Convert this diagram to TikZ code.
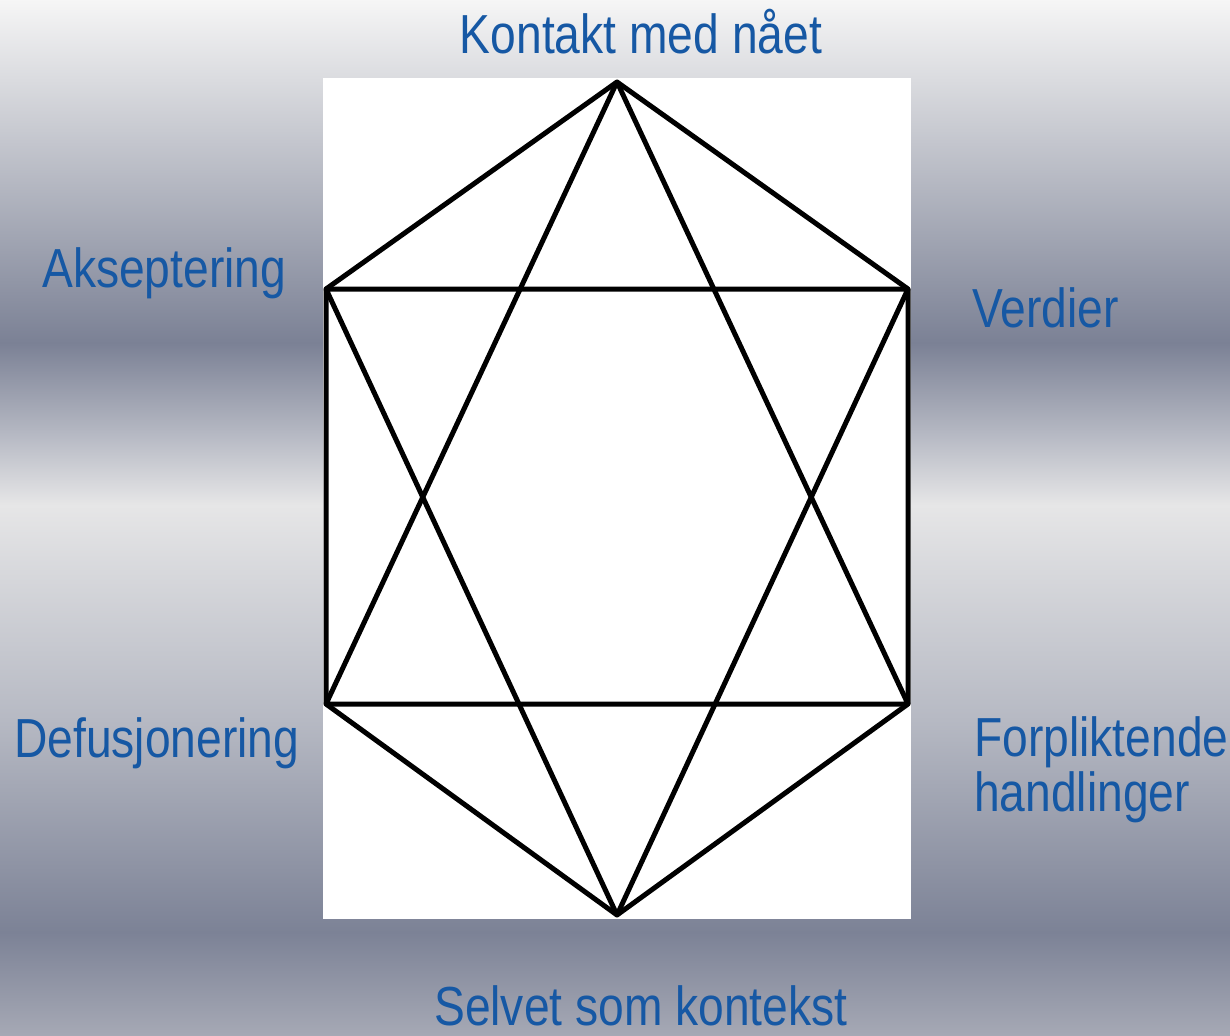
\documentclass[tikz,border=0pt]{standalone}
\usepackage{fontspec}
\newfontfamily\labfont[FakeStretch=0.84]{Liberation Sans}
\definecolor{labblue}{RGB}{22,88,164}
\definecolor{g0}{HTML}{F6F6F6}
\definecolor{g1}{HTML}{DADBDF}
\definecolor{g2}{HTML}{7B8195}
\definecolor{g3}{HTML}{B3B6C1}
\definecolor{g4}{HTML}{E6E6E7}
\definecolor{g5}{HTML}{B6B9C3}
\definecolor{g6}{HTML}{7C8296}
\definecolor{g7}{HTML}{A6A9B5}
\tikzset{
  lab/.style={font=\labfont\fontsize{55}{55}\selectfont, text=labblue, inner sep=0pt, align=left},
  edge/.style={line width=5pt, black, line join=round, line cap=round}
}
\begin{document}
\begin{tikzpicture}[x=1pt,y=-1pt]
\useasboundingbox (0,0) rectangle (1230,1035);
% background bands
\shade[top color=g0, bottom color=g1] (0,-1) rectangle (1230,80);
\shade[top color=g1, bottom color=g2] (0,80) rectangle (1230,343);
\shade[top color=g2, bottom color=g3] (0,343) rectangle (1230,430);
\shade[top color=g3, bottom color=g4] (0,430) rectangle (1230,505);
\shade[top color=g4, bottom color=g5] (0,505) rectangle (1230,720);
\shade[top color=g5, bottom color=g6] (0,720) rectangle (1230,932);
\shade[top color=g6, bottom color=g7] (0,932) rectangle (1230,1036);
% white panel
\fill[white] (323,78) rectangle (911,919);
% vertices
\coordinate (T) at (617,82);
\coordinate (UL) at (326,289);
\coordinate (UR) at (908,289);
\coordinate (LL) at (326,704);
\coordinate (LR) at (908,704);
\coordinate (B) at (617,915);
% hexagon
\draw[edge] (T) -- (UR) -- (LR) -- (B) -- (LL) -- (UL) -- cycle;
% triangles
\draw[edge] (T) -- (LL) -- (LR) -- cycle;
\draw[edge] (B) -- (UL) -- (UR) -- cycle;
% labels
\node[lab, anchor=base] (kon) at (641,54) {Kontakt med nået};
\node[lab, anchor=base west] (aks) at (42,287) {Akseptering};
\node[lab, anchor=base west] (ver) at (972,327) {Verdier};
\node[lab, anchor=base west] (def) at (14,757) {Defusjonering};
\node[lab, anchor=north west] (for) at (974,716) {Forpliktende\\handlinger};
\node[lab, anchor=base west] (sel) at (434,1025) {Selvet som kontekst};
\end{tikzpicture}
\end{document}
